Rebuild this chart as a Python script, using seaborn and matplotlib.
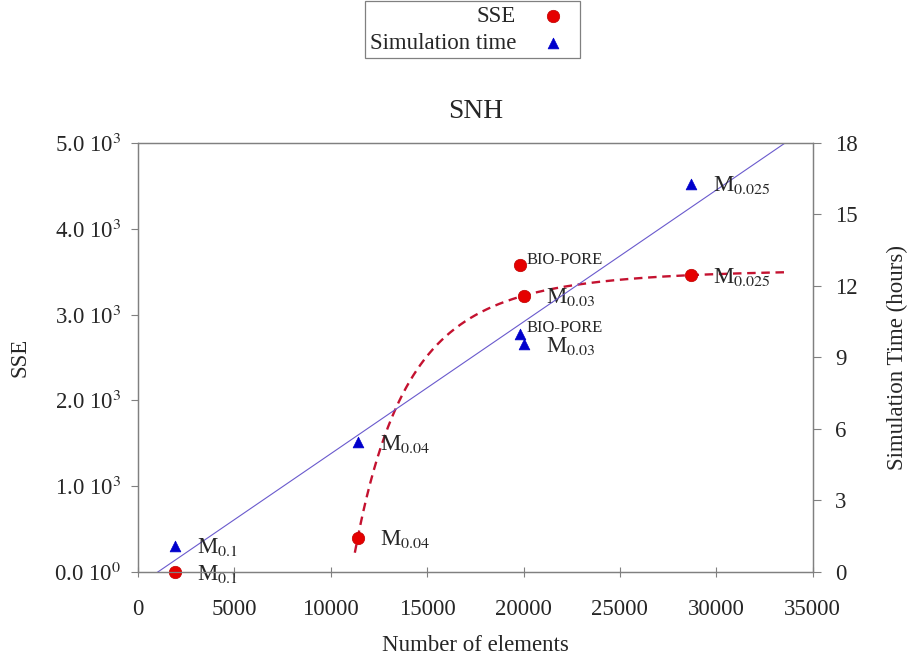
import numpy as np
import pandas as pd
import matplotlib
matplotlib.use('Agg')
import matplotlib.pyplot as plt
from matplotlib.ticker import FuncFormatter
import seaborn as sns

sns.set_style('ticks')
plt.rcParams.update({'font.family': ['Liberation Serif', 'DejaVu Serif'],
                     'mathtext.fontset': 'stix', 'font.size': 16.5})

##################################################################
#### values
mesh = ['M0.1', 'M0.04', 'BIO-PORE', 'M0.03', 'M0.025']
mesh_label = ['M$_{0.1}$', 'M$_{0.04}$', 'BIO-PORE', 'M$_{0.03}$', 'M$_{0.025}$']
elements = [1900, 11400, 19800, 20000, 28700]
sse = [0, 400, 3575, 3220, 3460]
sim_hours = [1.1, 5.45, 10.0, 9.55, 16.3]

x_ticks = [0, 5000, 10000, 15000, 20000, 25000, 30000, 35000]
sse_ticks = [0, 1000, 2000, 3000, 4000, 5000]
hour_ticks = [0, 3, 6, 9, 12, 15, 18]

df = pd.DataFrame({'mesh': mesh, 'elements': elements, 'sse': sse, 'hours': sim_hours})

##################################################################
#### trend lines
# linear fit of simulation time
k, q = np.polyfit(df['elements'], df['hours'], 1)
# saturating power fit  y = a - b * x^-n  for SSE (regular meshes M0.04 .. M0.025)
fit = df[df['mesh'].isin(['M0.04', 'M0.03', 'M0.025'])]
xf, yf = fit['elements'].values / 1e4, fit['sse'].values.astype(float)
best = None
for n in np.linspace(0.5, 10, 20000):
    A = np.column_stack([np.ones_like(xf), -xf ** (-n)])
    coef = np.linalg.lstsq(A, yf, rcond=None)[0]
    err = np.sum((A @ coef - yf) ** 2)
    if best is None or err < best[0]:
        best = (err, n, coef)
_, n_fit, (a_fit, b_fit) = best

xline = np.linspace(11250, 33700, 600)
trend = pd.DataFrame({'x': xline,
                      'sse': a_fit - b_fit * (xline / 1e4) ** (-n_fit)})
lin = pd.DataFrame({'x': np.linspace(0, 33700, 100)})
lin['hours'] = k * lin['x'] + q

##################################################################
fig = plt.figure(figsize=(9.09, 6.58), dpi=100)
ax = fig.add_axes([0.1518, 0.1307, 0.894 - 0.1518, 0.7827 - 0.1307])
ax2 = ax.twinx()

red = '#e50000'
blue = '#0000cc'

sns.lineplot(data=trend, x='x', y='sse', ax=ax, color='#c41230', lw=1.7,
             linestyle=(0, (3.6, 2.4)), zorder=2)
sns.lineplot(data=lin, x='x', y='hours', ax=ax2, color='#6a5acd', lw=0.8, zorder=2)

sns.scatterplot(data=df, x='elements', y='sse', ax=ax, color=red, s=80,
                edgecolor='#c00000', linewidth=0.5, label='SSE', zorder=4, clip_on=False)
sns.scatterplot(data=df, x='elements', y='hours', ax=ax2, color=blue, marker='^', s=60,
                edgecolor=blue, linewidth=0.5, label='Simulation time', zorder=4, clip_on=False)

for axis, col in [(ax, 'sse'), (ax2, 'hours')]:
    for i, row in df.iterrows():
        if row['mesh'] == 'BIO-PORE':
            axis.annotate(mesh_label[i], (row['elements'], row[col]), xytext=(5, 4),
                          textcoords='offset points', va='center', ha='left', fontsize=12)
        else:
            axis.annotate(mesh_label[i], (row['elements'], row[col]), xytext=(16, -5.5),
                          textcoords='offset points', va='baseline', ha='left', fontsize=16.5)

ax.set_xlim(0, 35000)
ax.set_ylim(0, 5000)
ax2.set_ylim(0, 18)
ax.set_xticks(x_ticks)
ax.set_yticks(sse_ticks)
ax2.set_yticks(hour_ticks)
ax.yaxis.set_major_formatter(FuncFormatter(
    lambda v, p: '%.1f 10$^3$' % (v / 1000) if v else '0.0 10$^0$'))

ax.set_xlabel('Number of elements', labelpad=11)
ax.set_ylabel('SSE', labelpad=17)
ax2.set_ylabel('Simulation Time (hours)', labelpad=21)
ax.set_title('SNH', pad=18)

for a in [ax, ax2]:
    for s in a.spines.values():
        s.set_visible(True)
        s.set_color('#808080')
        s.set_linewidth(0.9)
ax.tick_params(axis='x', direction='inout', length=7, color='#808080', pad=16)
ax.tick_params(axis='y', direction='out', length=5, color='#808080', pad=7)
ax2.tick_params(axis='y', direction='out', length=6, color='#808080', pad=10)

h1, l1 = ax.get_legend_handles_labels()
h2, l2 = ax2.get_legend_handles_labels()
for a in [ax, ax2]:
    if a.get_legend() is not None:
        a.get_legend().remove()
leg = fig.legend(h1 + h2, l1 + l2, loc='upper center', bbox_to_anchor=(0.52, 0.998),
                 markerfirst=False, fancybox=False, edgecolor='#808080', framealpha=1,
                 borderpad=0.2, labelspacing=0.25, handletextpad=0.6, borderaxespad=0)
leg.get_frame().set_linewidth(0.9)

plt.savefig('out.png', dpi=100)
